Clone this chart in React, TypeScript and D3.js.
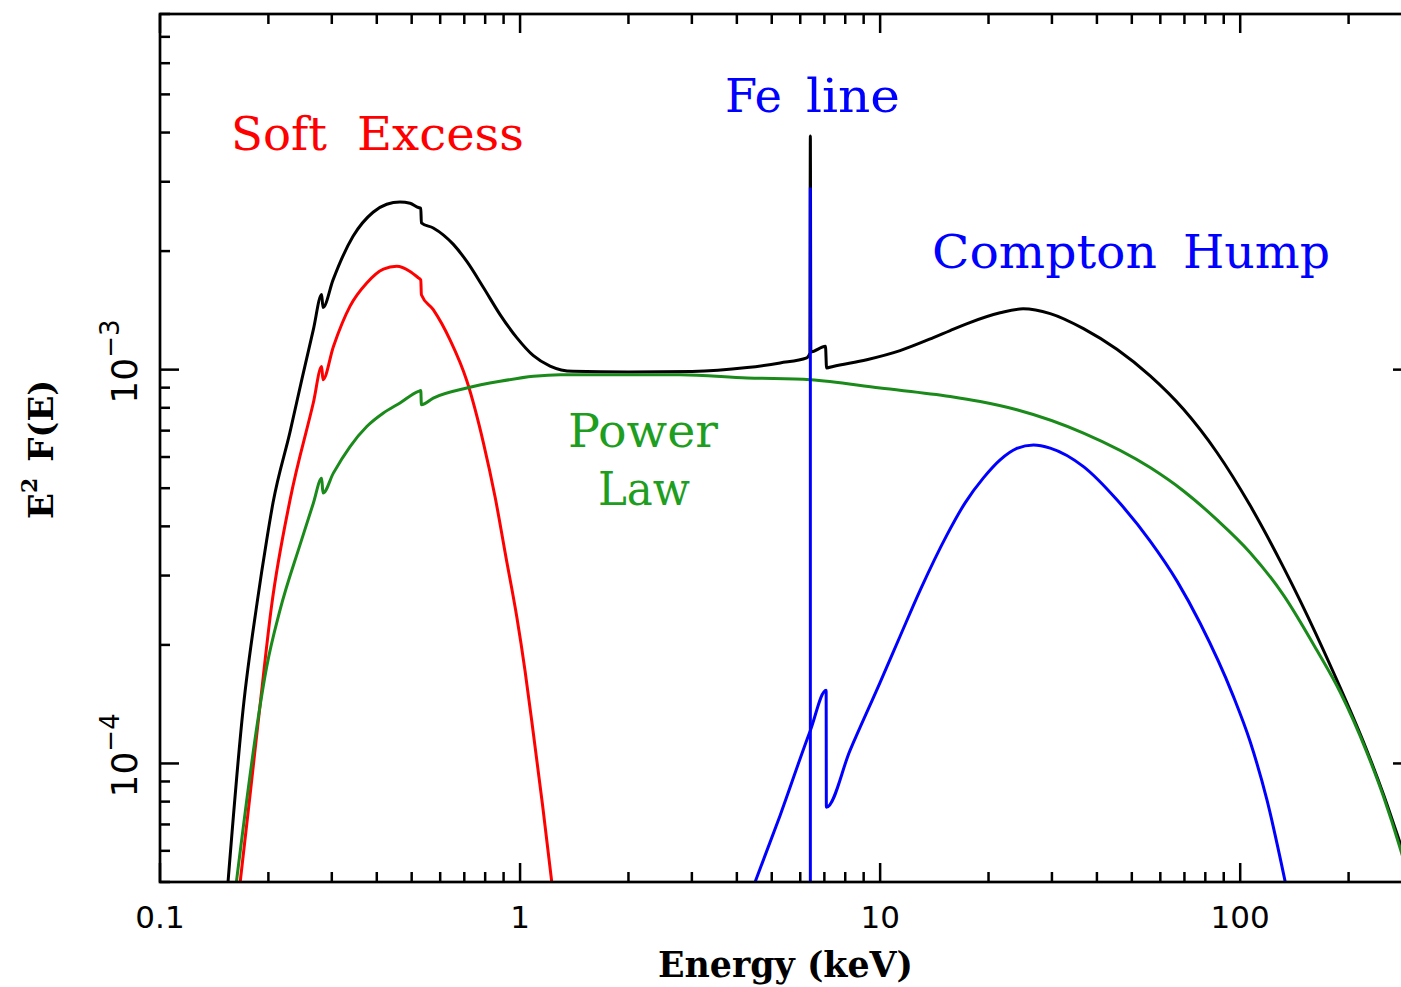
import React, { useRef, useEffect } from 'react';
import * as d3 from 'd3';

// axis ranges (keV, E^2 F(E))
const energyDomain = [0.1, 300];
const fluxDomain = [5e-5, 8e-3];

// tick labels
const xTickValues = [0.1, 1, 10, 100];
const xTickLabels = ['0.1', '1', '10', '100'];
const yTickValues = [1e-4, 1e-3];
const yTickExponents = ['\u22124', '\u22123'];

// total model (black)
const totalE = [0.1545, 0.170, 0.186, 0.1978, 0.206, 0.2297, 0.248, 0.2666, 0.2812, 0.2835, 0.3024, 0.3162, 0.3437, 0.3906, 0.4262, 0.464, 0.4948, 0.522, 0.53, 0.532, 0.574, 0.6528, 0.7113, 0.791, 0.8799, 0.9789, 1.089, 1.2115, 1.403, 2.0, 3.0, 4.27, 5.275, 6.256, 6.38, 6.4, 6.42, 7.05, 7.1, 7.4, 9.18, 11.36, 14.06, 15.65, 17.45, 21.54, 24.95, 29.67, 36.71, 45.45, 56.23, 69.6, 86.1, 106.6, 131.9, 146.8, 181.6, 224.8, 250, 278.3, 300];
const totalV = [5.0e-5, 1.364e-4, 2.553e-4, 3.69e-4, 4.59e-4, 6.95e-4, 9.49e-4, 1.264e-3, 1.552e-3, 1.438e-3, 1.69e-3, 1.87e-3, 2.18e-3, 2.51e-3, 2.63e-3, 2.666e-3, 2.645e-3, 2.58e-3, 2.57e-3, 2.36e-3, 2.29e-3, 2.08e-3, 1.883e-3, 1.617e-3, 1.38e-3, 1.206e-3, 1.085e-3, 1.021e-3, 0.990e-3, 0.986e-3, 0.989e-3, 1.012e-3, 1.04e-3, 1.071e-3, 1.10e-3, 3.92e-3, 1.11e-3, 1.146e-3, 1.01e-3, 1.019e-3, 1.06e-3, 1.118e-3, 1.206e-3, 1.257e-3, 1.309e-3, 1.394e-3, 1.427e-3, 1.388e-3, 1.271e-3, 1.126e-3, 0.964e-3, 0.793e-3, 0.617e-3, 0.4516e-3, 0.3148e-3, 0.2588e-3, 0.1702e-3, 0.1079e-3, 0.0834e-3, 0.0626e-3, 0.0510e-3];

// soft excess (red)
const softE = [0.167, 0.1778, 0.1896, 0.2042, 0.2297, 0.2666, 0.2812, 0.2835, 0.303, 0.3372, 0.3752, 0.4173, 0.4544, 0.4948, 0.522, 0.53, 0.532, 0.574, 0.639, 0.7113, 0.791, 0.8527, 0.9143, 0.9789, 1.0325, 1.089, 1.155, 1.2246];
const softV = [5.0e-5, 8.29e-5, 1.405e-4, 2.52e-4, 4.67e-4, 8.24e-4, 1.018e-3, 9.43e-4, 1.144e-3, 1.45e-3, 1.66e-3, 1.80e-3, 1.83e-3, 1.775e-3, 1.71e-3, 1.69e-3, 1.55e-3, 1.42e-3, 1.19e-3, 9.37e-4, 6.52e-4, 4.74e-4, 3.33e-4, 2.36e-4, 1.717e-4, 1.19e-4, 7.82e-5, 5.0e-5];

// power law (green)
const powerE = [0.163, 0.1875, 0.1978, 0.2154, 0.2448, 0.2666, 0.2812, 0.2835, 0.303, 0.3372, 0.3752, 0.4173, 0.464, 0.522, 0.53, 0.532, 0.574, 0.7113, 0.8799, 1.089, 1.292, 2.0, 2.78, 4.27, 6.4, 10, 15.65, 18.96, 23.97, 36.71, 56.23, 69.6, 86.1, 106.6, 131.9, 163.3, 189.6, 224.8, 250, 278.3, 300];
const powerV = [5.0e-5, 1.311e-4, 1.758e-4, 2.45e-4, 3.59e-4, 4.58e-4, 5.30e-4, 4.86e-4, 5.46e-4, 6.38e-4, 7.17e-4, 7.76e-4, 8.23e-4, 8.81e-4, 8.85e-4, 8.15e-4, 8.47e-4, 8.98e-4, 9.34e-4, 9.62e-4, 9.71e-4, 9.71e-4, 9.71e-4, 9.53e-4, 9.43e-4, 8.98e-4, 8.55e-4, 8.30e-4, 7.91e-4, 6.90e-4, 5.64e-4, 4.92e-4, 4.16e-4, 3.43e-4, 2.677e-4, 1.938e-4, 1.516e-4, 1.067e-4, 8.24e-5, 6.08e-5, 4.78e-5];

// reflection / compton hump (blue)
const reflE = [4.495, 5.275, 6.4, 7.08, 7.09, 8.25, 10, 11.36, 12.92, 15.32, 17.22, 19.36, 21.54, 23.97, 26.67, 29.67, 36.71, 45.45, 56.23, 66.83, 77.4, 95.6, 106.6, 118.6, 133.4];
const reflV = [5.0e-5, 7.38e-5, 1.213e-4, 1.534e-4, 7.74e-5, 1.08e-4, 1.607e-4, 2.104e-4, 2.755e-4, 3.80e-4, 4.59e-4, 5.31e-4, 5.90e-4, 6.31e-4, 6.44e-4, 6.32e-4, 5.67e-4, 4.67e-4, 3.67e-4, 2.90e-4, 2.27e-4, 1.485e-4, 1.135e-4, 8.09e-5, 5.0e-5];

// Fe K line (blue)
const feE = [6.4, 6.4];
const feV = [3e-5, 2.90e-3];

const App = () => {
    const chartRef = useRef<SVGSVGElement>(null);

    useEffect(() => {
        const svg = d3.select(chartRef.current);
        svg.selectAll("*").remove();

        const left = 160, right = 1412, top = 14, bottom = 882;

        const x = d3.scaleLog().domain(energyDomain).range([left, right]);
        const y = d3.scaleLog().domain(fluxDomain).range([bottom, top]);

        svg.append("rect").attr("width", 1401).attr("height", 987).attr("fill", "#fff");

        svg.append("clipPath").attr("id", "plot-clip")
            .append("rect")
            .attr("x", left).attr("y", top)
            .attr("width", right - left).attr("height", bottom - top);

        const isMajor = (v: number) => Math.abs(Math.log10(v) - Math.round(Math.log10(v))) < 1e-6;

        // ticks, all four sides, pointing inward
        const ticks = svg.append("g").attr("stroke", "#000").attr("stroke-width", 2.5);
        x.ticks().forEach(v => {
            const len = isMajor(v) ? 19 : 10;
            const px = x(v);
            ticks.append("line").attr("x1", px).attr("x2", px).attr("y1", bottom).attr("y2", bottom - len);
            ticks.append("line").attr("x1", px).attr("x2", px).attr("y1", top).attr("y2", top + len);
        });
        y.ticks().forEach(v => {
            const len = isMajor(v) ? 19 : 10;
            const py = y(v);
            ticks.append("line").attr("x1", left).attr("x2", left + len).attr("y1", py).attr("y2", py);
            ticks.append("line").attr("x1", right).attr("x2", right - len).attr("y1", py).attr("y2", py);
        });

        const line = d3.line<[number, number]>()
            .x(d => x(d[0]))
            .y(d => y(d[1]))
            .curve(d3.curveMonotoneX);

        const curves = svg.append("g").attr("clip-path", "url(#plot-clip)").attr("fill", "none").attr("stroke-width", 3);

        curves.append("path").datum(d3.zip(totalE, totalV)).attr("stroke", "#000").attr("d", line);
        curves.append("path").datum(d3.zip(softE, softV)).attr("stroke", "#ff0000").attr("d", line);
        curves.append("path").datum(d3.zip(powerE, powerV)).attr("stroke", "#1a8a1a").attr("d", line);
        curves.append("path").datum(d3.zip(reflE, reflV)).attr("stroke", "#0000ff").attr("d", line);
        curves.append("path").datum(d3.zip(feE, feV)).attr("stroke", "#0000ff").attr("d", d3.line<[number, number]>().x(d => x(d[0])).y(d => y(d[1])));

        // frame
        svg.append("rect")
            .attr("x", left).attr("y", top)
            .attr("width", right - left).attr("height", bottom - top)
            .attr("fill", "none").attr("stroke", "#000").attr("stroke-width", 2.7);

        // x tick labels
        svg.append("g")
            .selectAll("text")
            .data(xTickValues)
            .join("text")
            .attr("x", d => x(d))
            .attr("y", 928)
            .attr("text-anchor", "middle")
            .attr("font-family", "DejaVu Sans")
            .attr("font-size", 31)
            .text((d, i) => xTickLabels[i]);

        // y tick labels (rotated, 10^n)
        yTickValues.forEach((v, i) => {
            const t = svg.append("text")
                .attr("transform", `translate(137,${y(v) + 34}) rotate(-90)`)
                .attr("font-family", "DejaVu Sans")
                .attr("font-size", 36);
            t.append("tspan").text("10");
            t.append("tspan").attr("dy", -18).attr("font-size", 26).text(yTickExponents[i]);
        });

        // axis titles
        svg.append("text")
            .attr("x", 658).attr("y", 977)
            .attr("font-family", "DejaVu Serif").attr("font-weight", "bold")
            .attr("font-size", 35)
            .attr("textLength", 255).attr("lengthAdjust", "spacingAndGlyphs")
            .text("Energy (keV)");

        const yt = svg.append("text")
            .attr("transform", "translate(53,519) rotate(-90)")
            .attr("font-family", "DejaVu Serif").attr("font-weight", "bold")
            .attr("font-size", 34);
        yt.append("tspan").text("E");
        yt.append("tspan").attr("dy", -16).attr("font-size", 22).text("2");
        yt.append("tspan").attr("dy", 16).attr("dx", 16).text("F(E)");

        // annotations
        const notes = [
            { t: "Soft", x: 231, y: 150, w: 96, c: "#ff0000" },
            { t: "Excess", x: 357, y: 150, w: 167, c: "#ff0000" },
            { t: "Fe", x: 725, y: 112, w: 57, c: "#0000ff" },
            { t: "line", x: 806, y: 112, w: 94, c: "#0000ff" },
            { t: "Compton", x: 932, y: 268, w: 225, c: "#0000ff" },
            { t: "Hump", x: 1183, y: 268, w: 147, c: "#0000ff" },
            { t: "Power", x: 568, y: 447, w: 150, c: "#1e9e1e" },
            { t: "Law", x: 598, y: 505, w: 92, c: "#1e9e1e" },
        ];
        svg.append("g")
            .selectAll("text")
            .data(notes)
            .join("text")
            .attr("x", d => d.x)
            .attr("y", d => d.y)
            .attr("fill", d => d.c)
            .attr("font-family", "DejaVu Serif")
            .attr("font-size", 46)
            .attr("textLength", d => d.w)
            .attr("lengthAdjust", "spacingAndGlyphs")
            .text(d => d.t);
    }, []);

    return (
        <svg
            ref={chartRef}
            width={1401}
            height={987}
            style={{ position: "absolute", left: 0, top: 0 }}
        ></svg>
    );
};

export default App;
